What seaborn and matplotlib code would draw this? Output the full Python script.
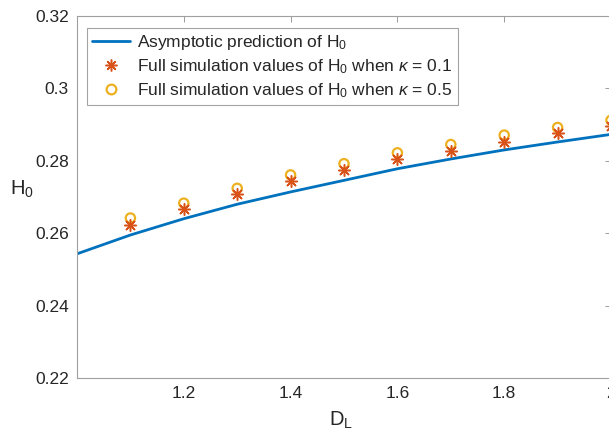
import matplotlib
matplotlib.use("Agg")
import matplotlib.pyplot as plt
import seaborn as sns
import pandas as pd
from matplotlib.lines import Line2D

# ---- data ----
x_line = [1.0, 1.1, 1.2, 1.3, 1.4, 1.5, 1.6, 1.7, 1.8, 1.9, 2.0]
h0_asymptotic = [0.2543, 0.2595, 0.2640, 0.2680, 0.2714, 0.2746, 0.2778, 0.2805, 0.2830, 0.2852, 0.2873]
x_sim = [1.1, 1.2, 1.3, 1.4, 1.5, 1.6, 1.7, 1.8, 1.9, 2.0]
h0_kappa01 = [0.2623, 0.2667, 0.2707, 0.2744, 0.2775, 0.2805, 0.2828, 0.2853, 0.2876, 0.2895]
h0_kappa05 = [0.2642, 0.2683, 0.2724, 0.2761, 0.2792, 0.2822, 0.2845, 0.2871, 0.2892, 0.2912]
x_ticks = [1.2, 1.4, 1.6, 1.8, 2.0]
x_tick_labels = ["1.2", "1.4", "1.6", "1.8", "2"]
y_ticks = [0.22, 0.24, 0.26, 0.28, 0.30, 0.32]
y_tick_labels = ["0.22", "0.24", "0.26", "0.28", "0.3", "0.32"]
legend_labels = [
    r"Asymptotic prediction of H$_0$",
    r"Full simulation values of H$_0$ when $\kappa$ = 0.1",
    r"Full simulation values of H$_0$ when $\kappa$ = 0.5",
]

C_LINE = "#0072BD"
C_STAR = "#D95319"
C_CIRC = "#EDB120"

sns.set_style("white")
plt.rcParams["font.family"] = ["Liberation Sans", "DejaVu Sans"]
plt.rcParams["mathtext.fontset"] = "custom"
plt.rcParams["mathtext.rm"] = "Liberation Sans"
plt.rcParams["mathtext.it"] = "Liberation Sans:italic"

fig = plt.figure(figsize=(6.09, 4.34), dpi=100)
ax = fig.add_axes([77 / 609, 56 / 434, 534 / 609, 362 / 434])

df_line = pd.DataFrame({"x": x_line, "y": h0_asymptotic})
df_a = pd.DataFrame({"x": x_sim, "y": h0_kappa01})
df_b = pd.DataFrame({"x": x_sim, "y": h0_kappa05})

sns.lineplot(data=df_line, x="x", y="y", ax=ax, color=C_LINE, linewidth=2.0)
sns.scatterplot(data=df_b, x="x", y="y", ax=ax, marker="o", s=45,
                facecolors="none", edgecolor=C_CIRC, linewidth=1.6, zorder=3)
sns.scatterplot(data=df_a, x="x", y="y", ax=ax, marker=(8, 2, 0), s=70,
                color=C_STAR, edgecolor=C_STAR, linewidth=1.1, zorder=4)

ax.set_xlim(1.0, 2.0)
ax.set_ylim(0.22, 0.32)
ax.set_xticks(x_ticks)
ax.set_xticklabels(x_tick_labels)
ax.set_yticks(y_ticks)
ax.set_yticklabels(y_tick_labels)
ax.tick_params(direction="in", length=4, width=0.6, color="#8c8c8c",
               labelsize=12.5, labelcolor="#262626", top=True, right=True, pad=6)
for sp in ax.spines.values():
    sp.set_color("#a0a0a0")
    sp.set_linewidth(0.8)

ax.set_xlabel(r"D$_\mathregular{L}$", fontsize=14.5, color="#262626")
ax.set_ylabel(r"H$_\mathregular{0}$", fontsize=14.5, color="#262626", rotation=0,
              ha="center", va="center")
ax.xaxis.set_label_coords(0.494, -0.088)
ax.yaxis.set_label_coords(-0.103, 0.52)

handles = [
    Line2D([], [], color=C_LINE, linewidth=2.0),
    Line2D([], [], color=C_STAR, marker=(8, 2, 0), markersize=8.5, linestyle="none",
           markeredgewidth=1.1),
    Line2D([], [], color=C_CIRC, marker="o", markersize=7, linestyle="none",
           markerfacecolor="none", markeredgewidth=1.6),
]
leg = ax.legend(handles, legend_labels, loc="upper left",
                bbox_to_anchor=(10 / 534, 350 / 362), borderaxespad=0,
                fontsize=12.5, frameon=True, fancybox=False, edgecolor="#8c8c8c",
                handlelength=2.2, handletextpad=0.4, labelspacing=0.3,
                borderpad=0.3)
leg.get_frame().set_linewidth(0.8)
for t in leg.get_texts():
    t.set_color("#262626")

fig.savefig("out.png", dpi=100)
